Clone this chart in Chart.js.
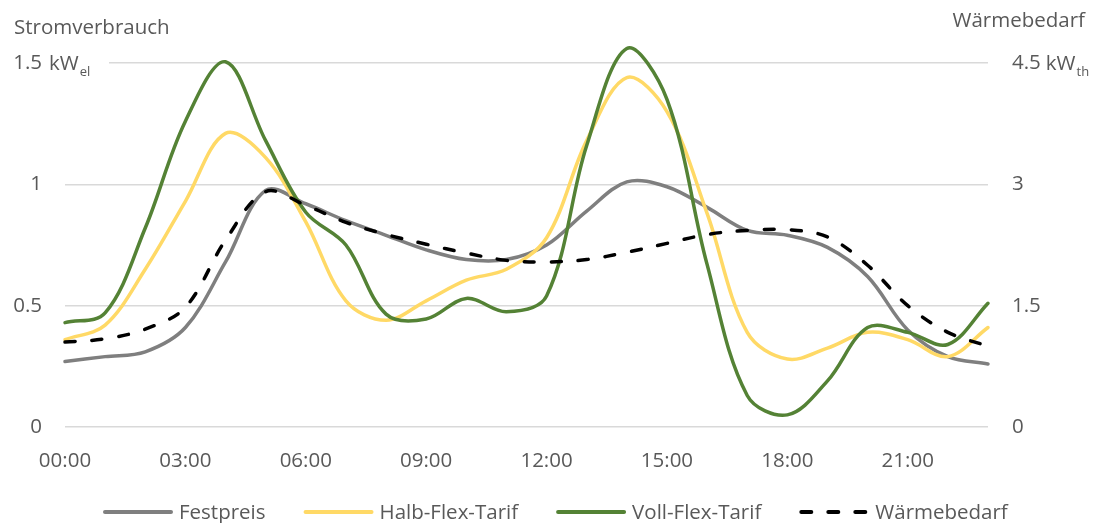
<!DOCTYPE html>
<html>
<head>
<meta charset="utf-8">
<script src="https://cdn.jsdelivr.net/npm/chart.js@4.4.1/dist/chart.umd.min.js"></script>
<style>
  html, body { margin: 0; padding: 0; background: #ffffff; }
  #wrap { width: 1101px; height: 523px; }
</style>
</head>
<body>
<div id="wrap"><canvas id="c" width="1101" height="523"></canvas></div>
<script>
// Hourly profile, 00:00 to 23:00
const hours = ['00:00','01:00','02:00','03:00','04:00','05:00','06:00','07:00','08:00','09:00','10:00','11:00',
               '12:00','13:00','14:00','15:00','16:00','17:00','18:00','19:00','20:00','21:00','22:00','23:00'];

// Electrical load in kW_el
const festpreis   = [0.27, 0.29, 0.31, 0.41, 0.68, 0.975, 0.92, 0.85, 0.79, 0.73, 0.69, 0.69,
                     0.75, 0.89, 1.01, 0.99, 0.905, 0.81, 0.79, 0.74, 0.62, 0.40, 0.29, 0.26];
const halbFlex    = [0.36, 0.42, 0.65, 0.93, 1.21, 1.11, 0.845, 0.52, 0.44, 0.52, 0.605, 0.65,
                     0.78, 1.18, 1.44, 1.30, 0.88, 0.39, 0.28, 0.325, 0.39, 0.36, 0.29, 0.41];
const vollFlex    = [0.43, 0.47, 0.82, 1.26, 1.505, 1.18, 0.885, 0.75, 0.465, 0.445, 0.53, 0.475,
                     0.54, 1.16, 1.56, 1.35, 0.67, 0.13, 0.05, 0.19, 0.41, 0.39, 0.34, 0.51];
// Heat demand in kW_th
const waermebedarf = [1.05, 1.09, 1.21, 1.48, 2.31, 2.91, 2.74, 2.53, 2.38, 2.26, 2.15, 2.06,
                      2.04, 2.07, 2.16, 2.27, 2.38, 2.43, 2.44, 2.35, 2.0, 1.5, 1.17, 1.0];

// Axis ticks and labels
const leftTicks  = [0, 0.5, 1, 1.5];
const rightTicks = [0, 1.5, 3, 4.5];
const tickEvery  = 3;
const leftTitle  = 'Stromverbrauch';
const rightTitle = 'Wärmebedarf';
const leftUnit   = { main: 'kW', sub: 'el' };
const rightUnit  = { main: 'kW', sub: 'th' };

const FONT = '"Open Sans", "DejaVu Sans", sans-serif';
const FS = 20.5;
const TEXT = '#595959';
const GRID = '#d9d9d9';

// Titles, unit suffixes on the top ticks and the legend row
const decorations = {
  id: 'decorations',
  beforeDatasetsDraw(chart) {
    const { ctx, chartArea, scales } = chart;
    const y = scales.y.getPixelForValue(leftTicks[leftTicks.length - 1]);
    ctx.save();
    ctx.fillStyle = '#ffffff';
    ctx.fillRect(chartArea.left - 1, y - 3, 45, 6);
    ctx.restore();
  },
  afterDraw(chart) {
    const { ctx, chartArea, scales } = chart;
    ctx.save();
    ctx.fillStyle = TEXT;
    ctx.textBaseline = 'alphabetic';

    // axis titles
    ctx.font = FS + 'px ' + FONT;
    ctx.textAlign = 'left';
    ctx.fillText(leftTitle, 14, 34);
    ctx.textAlign = 'right';
    ctx.fillText(rightTitle, 1085, 27);

    // unit suffix after the topmost left tick
    const yL = scales.y.getPixelForValue(leftTicks[leftTicks.length - 1]);
    ctx.textAlign = 'left';
    ctx.font = FS + 'px ' + FONT;
    let x = 49;
    ctx.fillText(leftUnit.main, x, yL + 7);
    x += ctx.measureText(leftUnit.main).width + 1;
    ctx.font = '13px ' + FONT;
    ctx.fillText(leftUnit.sub, x, yL + 13);

    // unit suffix after the topmost right tick
    const yR = scales.y2.getPixelForValue(rightTicks[rightTicks.length - 1]);
    ctx.font = FS + 'px ' + FONT;
    const numW = ctx.measureText(String(rightTicks[rightTicks.length - 1])).width;
    x = chartArea.right + 24 + numW + 5;
    ctx.fillText(rightUnit.main, x, yR + 7);
    x += ctx.measureText(rightUnit.main).width + 1;
    ctx.font = '13px ' + FONT;
    ctx.fillText(rightUnit.sub, x, yR + 13);

    // legend
    ctx.font = FS + 'px ' + FONT;
    let lx = 103;
    const ly = 512;
    chart.data.datasets.forEach(ds => {
      ctx.save();
      ctx.strokeStyle = ds.borderColor;
      ctx.lineWidth = 4;
      ctx.lineCap = 'round';
      if (ds.borderDash) ctx.setLineDash(ds.borderDash);
      ctx.beginPath();
      ctx.moveTo(lx + 2, ly);
      ctx.lineTo(lx + 68, ly);
      ctx.stroke();
      ctx.restore();
      ctx.fillStyle = TEXT;
      ctx.textAlign = 'left';
      ctx.fillText(ds.label, lx + 76, ly + 7);
      lx += 76 + ctx.measureText(ds.label).width + 38;
    });
    ctx.restore();
  }
};

const common = { pointRadius: 0, pointHoverRadius: 0, borderWidth: 3.5, tension: 0.35, fill: false,
                 borderCapStyle: 'round', borderJoinStyle: 'round', clip: false };

new Chart(document.getElementById('c'), {
  type: 'line',
  data: {
    labels: hours,
    datasets: [
      Object.assign({ label: 'Festpreis', data: festpreis, borderColor: '#7f7f7f', yAxisID: 'y', order: 3 }, common),
      Object.assign({ label: 'Halb-Flex-Tarif', data: halbFlex, borderColor: '#ffd966', yAxisID: 'y', order: 2 }, common),
      Object.assign({ label: 'Voll-Flex-Tarif', data: vollFlex, borderColor: '#548235', yAxisID: 'y', order: 1 }, common),
      Object.assign({ label: 'Wärmebedarf', data: waermebedarf, borderColor: '#000000', yAxisID: 'y2', order: 0,
                      borderDash: [10, 17] }, common)
    ]
  },
  options: {
    responsive: false,
    animation: false,
    events: [],
    layout: { padding: { top: 63, left: 0, right: 0, bottom: 0 } },
    plugins: { legend: { display: false }, tooltip: { enabled: false } },
    scales: {
      x: {
        type: 'category',
        offset: false,
        grid: { display: false, drawTicks: false },
        border: { display: false },
        ticks: {
          autoSkip: false, maxRotation: 0, minRotation: 0, padding: 22,
          color: TEXT, font: { family: FONT, size: FS },
          callback(value, index) { return index % tickEvery === 0 ? hours[index] : ''; }
        },
        afterFit(scale) { scale.height = 96; }
      },
      y: {
        position: 'left',
        min: leftTicks[0], max: leftTicks[leftTicks.length - 1],
        afterBuildTicks(scale) { scale.ticks = leftTicks.map(v => ({ value: v })); },
        grid: { color: GRID, lineWidth: 1.5, drawTicks: false },
        border: { display: false },
        ticks: { padding: 23, color: TEXT, font: { family: FONT, size: FS },
                 callback(v) { return String(v); } },
        afterFit(scale) { scale.width = 65; }
      },
      y2: {
        position: 'right',
        min: rightTicks[0], max: rightTicks[rightTicks.length - 1],
        afterBuildTicks(scale) { scale.ticks = rightTicks.map(v => ({ value: v })); },
        grid: { display: false, drawTicks: false },
        border: { display: false },
        ticks: { padding: 24, color: TEXT, font: { family: FONT, size: FS },
                 callback(v) { return String(v); } },
        afterFit(scale) { scale.width = 113; }
      }
    }
  },
  plugins: [decorations]
});
</script>
</body>
</html>
